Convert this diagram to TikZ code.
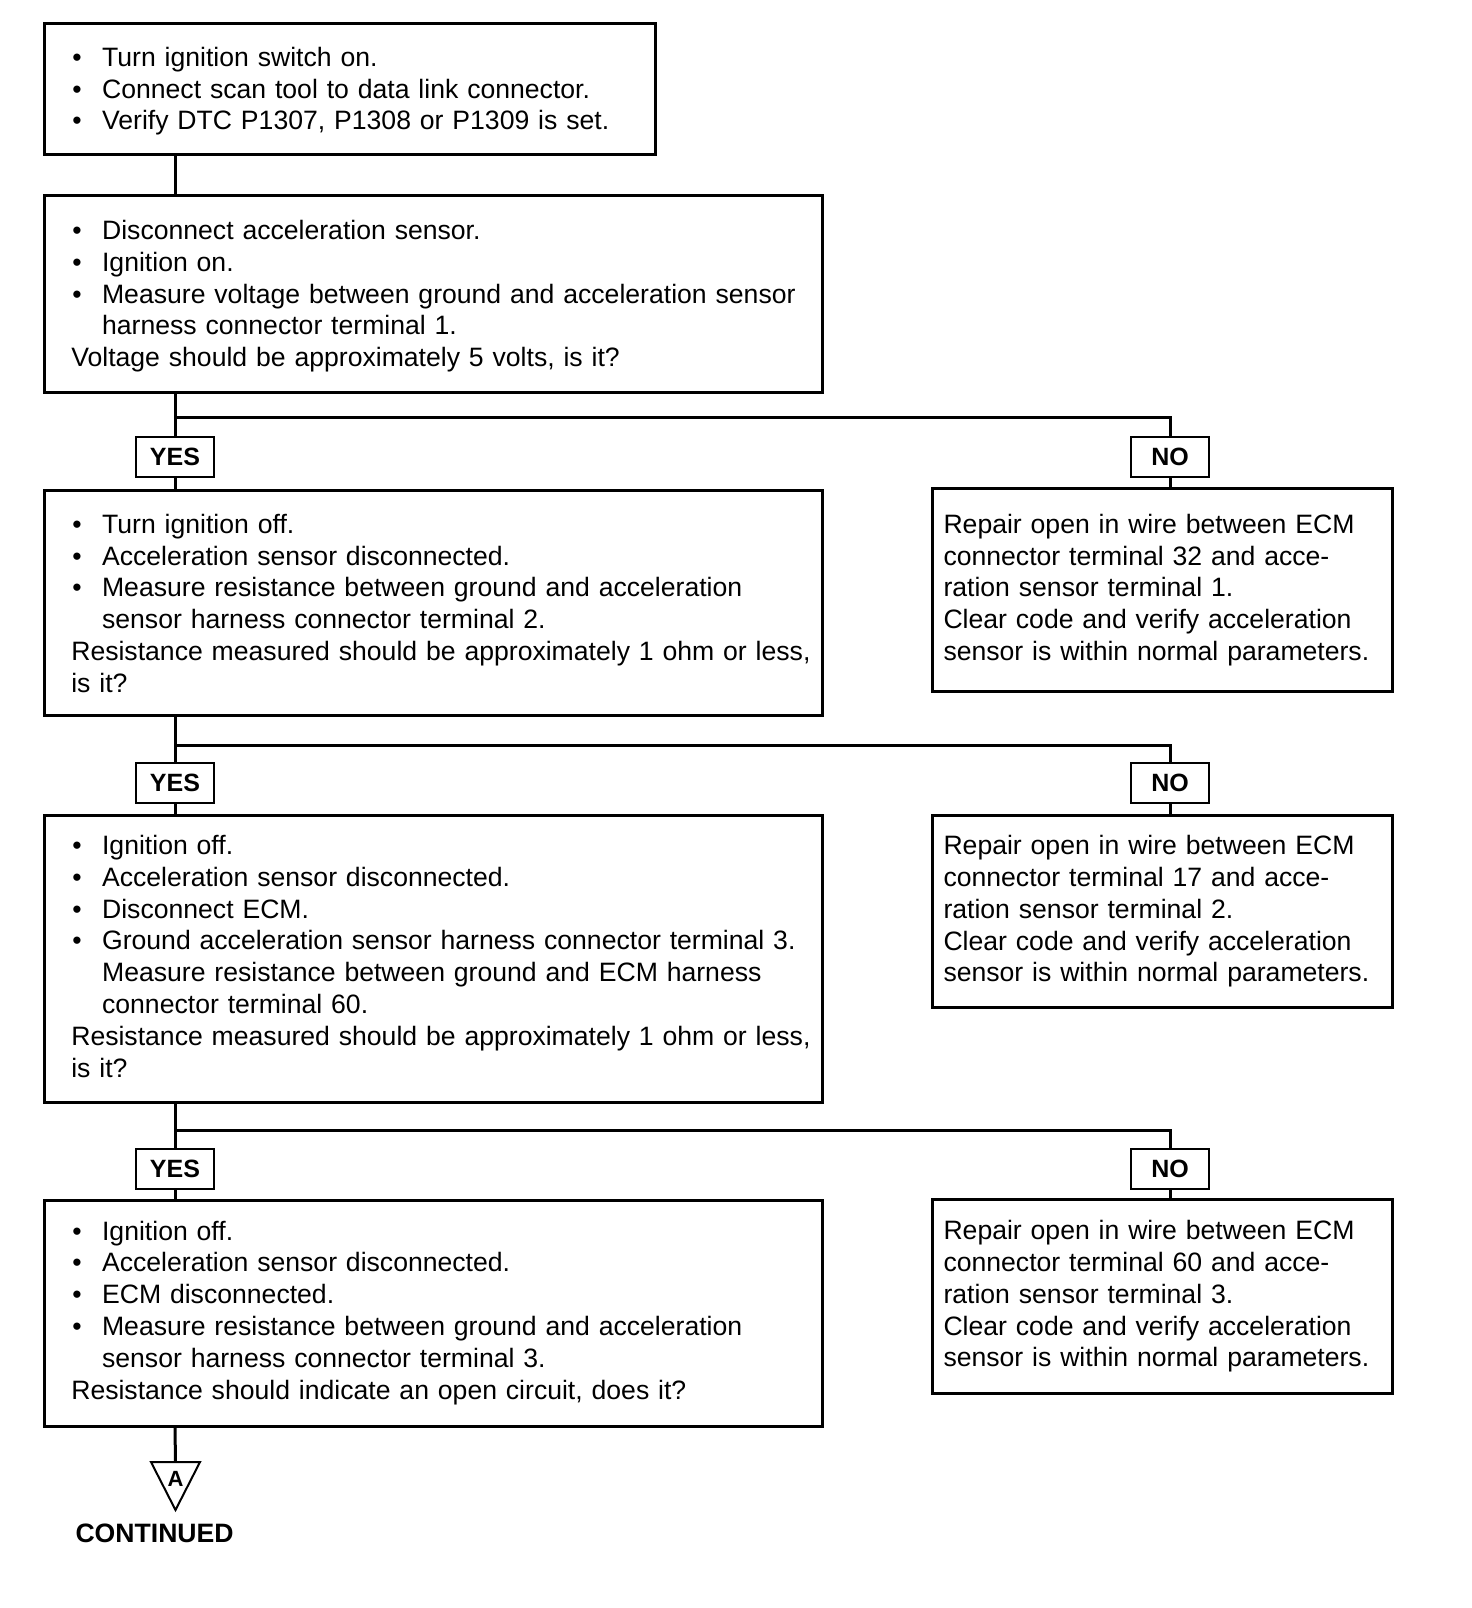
\documentclass[tikz,border=0pt]{standalone}
\usepackage{fontspec}
\setmainfont{Liberation Sans}
\usepackage{tikz}
\usetikzlibrary{positioning}

\newcommand{\bul}{\par\hangindent=15.4pt\hangafter=1\noindent\makebox[15.4pt][l]{\hspace{0.5pt}\textbullet}}
\newcommand{\txt}{\par\noindent}

\begin{document}
\begin{tikzpicture}[
  x = 1pt, y = -1pt,
  every node/.style = {font=\fontsize{13.3}{15.9}\selectfont},
  stepbox/.style    = {rectangle, draw, line width=1.5pt, anchor=north west,
                       inner sep=0pt, align=left, text width=389pt,
                       execute at begin node={\leftskip=13.4pt}},
  repairbox/.style  = {rectangle, draw, line width=1.5pt, anchor=north west,
                       inner sep=0pt, align=left, text width=230pt,
                       execute at begin node={\leftskip=5.5pt}},
  lift/.style       = {execute at begin node={\vskip-#1}},
  answer/.style     = {rectangle, draw, line width=1pt, fill=white,
                       minimum width=39pt, minimum height=20pt, inner sep=0pt,
                       font=\fontsize{12.5}{14}\selectfont\bfseries},
  line/.style       = {line width=1.5pt}
]
\useasboundingbox (0,0) rectangle (736,804);

% --- left column ---
\node[stepbox, text width=305.5pt, minimum height=65.5pt, lift=4pt] (verify) at (21.5,11)
  {\bul Turn ignition switch on.
   \bul Connect scan tool to data link connector.
   \bul Verify DTC P1307, P1308 or P1309 is set.};
\node[stepbox, minimum height=98.5pt, lift=4pt] (voltage) at (21.5,97)
  {\bul Disconnect acceleration sensor.
   \bul Ignition on.
   \bul \mbox{Measure voltage between ground and acceleration sensor}\newline
        harness connector terminal 1.
   \txt Voltage should be approximately 5 volts, is it?};
\node[stepbox, minimum height=112.5pt, lift=6pt] (gndres) at (21.5,244.5)
  {\bul Turn ignition off.
   \bul Acceleration sensor disconnected.
   \bul Measure resistance between ground and acceleration\newline
        sensor harness connector terminal 2.
   \txt \mbox{Resistance measured should be approximately 1 ohm or less,}\newline
        is it?};
\node[stepbox, minimum height=143.5pt, lift=9pt] (ecmres) at (21.5,407)
  {\bul Ignition off.
   \bul Acceleration sensor disconnected.
   \bul Disconnect ECM.
   \bul \mbox{Ground acceleration sensor harness connector terminal 3.}\newline
        Measure resistance between ground and ECM harness\newline
        connector terminal 60.
   \txt \mbox{Resistance measured should be approximately 1 ohm or less,}\newline
        is it?};
\node[stepbox, minimum height=113pt, lift=7pt] (opencheck) at (21.5,599.5)
  {\bul Ignition off.
   \bul Acceleration sensor disconnected.
   \bul ECM disconnected.
   \bul Measure resistance between ground and acceleration\newline
        sensor harness connector terminal 3.
   \txt Resistance should indicate an open circuit, does it?};

% --- right column (repairs) ---
\node[repairbox, minimum height=101.5pt] (repair1) at (465.5,243.5)
  {Repair open in wire between ECM\\
   connector terminal 32 and acce-\\
   ration sensor terminal 1.\\
   Clear code and verify acceleration\\
   sensor is within normal parameters.};
\node[repairbox, minimum height=96pt] (repair2) at (465.5,407)
  {Repair open in wire between ECM\\
   connector terminal 17 and acce-\\
   ration sensor terminal 2.\\
   Clear code and verify acceleration\\
   sensor is within normal parameters.};
\node[repairbox, minimum height=97pt] (repair3) at (465.5,599)
  {Repair open in wire between ECM\\
   connector terminal 60 and acce-\\
   ration sensor terminal 3.\\
   Clear code and verify acceleration\\
   sensor is within normal parameters.};

% --- YES / NO labels ---
\node[answer] (yes1) at (87.5,228.5)  {YES};
\node[answer] (no1)  at (585,228.5)   {NO};
\node[answer] (yes2) at (87.5,391.25) {YES};
\node[answer] (no2)  at (585,391.25)  {NO};
\node[answer] (yes3) at (87.5,584.25) {YES};
\node[answer] (no3)  at (585,584.25)  {NO};

\coordinate (split1) at (87.5,208.5);
\coordinate (split2) at (87.5,372.5);
\coordinate (split3) at (87.5,565);

% --- connectors ---
\draw[line] (yes1 |- verify.south) -- (yes1 |- voltage.north);

\draw[line] (yes1 |- voltage.south) -- (yes1.north);
\draw[line] (yes1.south) -- (yes1 |- gndres.north);
\draw[line] (split1) -| (no1.north);
\draw[line] (no1.south) -- (no1 |- repair1.north);

\draw[line] (yes2 |- gndres.south) -- (yes2.north);
\draw[line] (yes2.south) -- (yes2 |- ecmres.north);
\draw[line] (split2) -| (no2.north);
\draw[line] (no2.south) -- (no2 |- repair2.north);

\draw[line] (yes3 |- ecmres.south) -- (yes3.north);
\draw[line] (yes3.south) -- (yes3 |- opencheck.north);
\draw[line] (split3) -| (no3.north);
\draw[line] (no3.south) -- (no3 |- repair3.north);

% --- continued marker ---
\coordinate (tritop) at (87.75,731);
\draw[line] (yes3 |- opencheck.south) -- (tritop);
\draw[line width=1pt] ([xshift=-12.25pt]tritop) -- ([xshift=12.25pt]tritop)
  -- ([yshift=-24pt]tritop) -- cycle;
\node[font=\fontsize{11}{12}\selectfont\bfseries] (marka) at ([yshift=-8.5pt]tritop) {A};
\node[font=\fontsize{13.3}{15.9}\selectfont\bfseries] (continued) at (77.3,766.5) {CONTINUED};

\end{tikzpicture}
\end{document}
